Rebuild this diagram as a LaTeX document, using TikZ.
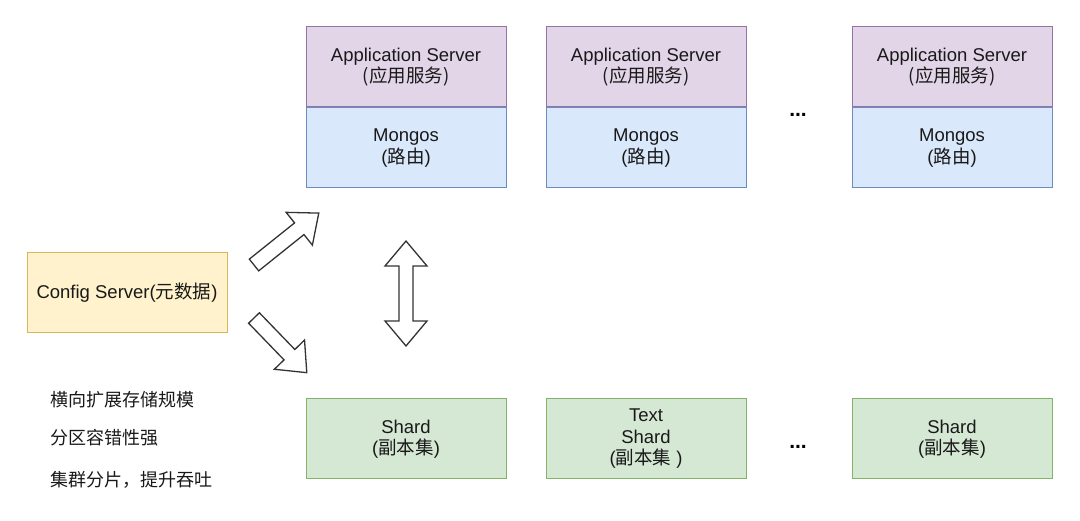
\documentclass[tikz,border=0pt]{standalone}
\usepackage{fontspec}
\setmainfont{Liberation Sans}
\newfontfamily\cjk{Noto Sans CJK SC}
\newcommand\zh[1]{{\cjk #1}}
\usetikzlibrary{positioning}
\definecolor{appfill}{HTML}{E1D5E7}
\definecolor{appdraw}{HTML}{9673A6}
\definecolor{mgsfill}{HTML}{DAE8FC}
\definecolor{mgsdraw}{HTML}{6C8EBF}
\definecolor{cfgfill}{HTML}{FFF2CC}
\definecolor{cfgdraw}{HTML}{D6B656}
\definecolor{shdfill}{HTML}{D5E8D4}
\definecolor{shddraw}{HTML}{82B366}
\tikzset{
  box/.style = {draw, line width=1pt, minimum width=200pt, minimum height=80pt,
    inner sep=0pt, align=center, text=black!90, font=\fontsize{18.5}{21.5}\selectfont},
  appbox/.style = {box, fill=appfill, draw=appdraw},
  mgsbox/.style = {box, fill=mgsfill, draw=mgsdraw},
  cfgbox/.style = {box, fill=cfgfill, draw=cfgdraw},
  shdbox/.style = {box, fill=shdfill, draw=shddraw},
  dots/.style = {font=\fontsize{21}{24}\selectfont\bfseries},
  note/.style = {anchor=west, inner sep=0pt, text=black!90, font=\fontsize{18}{21}\selectfont\cjk},
  hollow/.style = {draw=black!80, fill=white, line width=1.3pt, line join=miter}
}

\begin{document}
\begin{tikzpicture}[x=1pt,y=1pt]
  \useasboundingbox (0,0) rectangle (1080,521);

  % application servers with their routers
  \node[appbox] (app1) at (406,454) {Application Server\\\zh{(应用服务)}};
  \node[appbox] (app2) at (646,454) {Application Server\\\zh{(应用服务)}};
  \node[appbox] (app3) at (952,454) {Application Server\\\zh{(应用服务)}};
  \node[mgsbox,below=0pt of app1] (mongos1) {Mongos\\(\zh{路由})};
  \node[mgsbox,below=0pt of app2] (mongos2) {Mongos\\(\zh{路由})};
  \node[mgsbox,below=0pt of app3] (mongos3) {Mongos\\(\zh{路由})};
  \node[dots] (dotsTop) at (798,406) {...};

  % config server
  \node[cfgbox] (config) at (127,228) {Config Server(\zh{元数据})};

  % shards
  \node[shdbox] (shard1) at (406,82) {Shard\\(\zh{副本集})};
  \node[shdbox] (shard2) at (646,82) {Text\\Shard\\(\zh{副本集} )};
  \node[shdbox] (shard3) at (952,82) {Shard\\(\zh{副本集})};
  \node[dots] (dotsBottom) at (798,74) {...};

  % notes
  \node[note] (note1) at (50,121) {横向扩展存储规模};
  \node[note] (note2) at (50,83)  {分区容错性强};
  \node[note] (note3) at (50,41)  {集群分片，提升吞吐};

  % block arrows
  \begin{scope}[shift={(254,256)},rotate=38.7]
    \draw[hollow] (0,-7.5) -- (58,-7.5) -- (58,-21) -- (83,0) -- (58,21) -- (58,7.5) -- (0,7.5) -- cycle;
  \end{scope}
  \begin{scope}[shift={(254,203)},rotate=-46]
    \draw[hollow] (0,-7.5) -- (51,-7.5) -- (51,-21) -- (76,0) -- (51,21) -- (51,7.5) -- (0,7.5) -- cycle;
  \end{scope}
  \draw[hollow] (406,280) -- (385,255) -- (399,255) -- (399,200) -- (385,200) -- (406,175)
    -- (427,200) -- (413,200) -- (413,255) -- (427,255) -- cycle;
\end{tikzpicture}
\end{document}
